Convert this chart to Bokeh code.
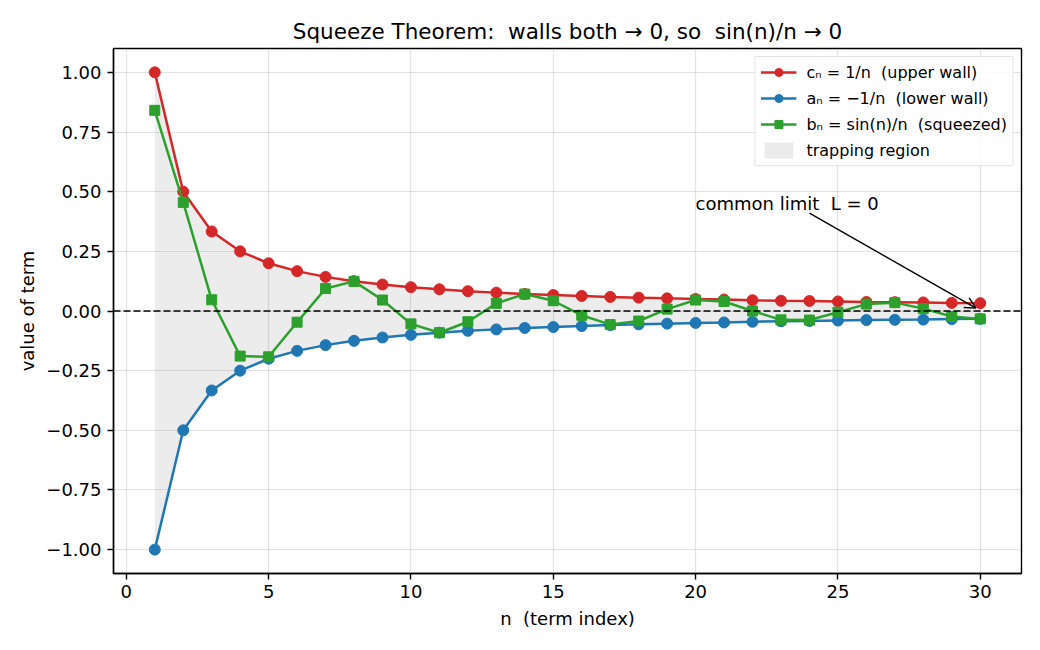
from bokeh.plotting import figure
from bokeh.models import (Range1d, FixedTicker, Span, Label, Arrow, OpenHead,
                          Legend, LegendItem)
from bokeh.embed import file_html
from bokeh.resources import INLINE

# term index and the three sequences
n = list(range(1, 31))
upper = [1.000, 0.500, 0.333, 0.250, 0.200, 0.167, 0.143, 0.125, 0.111, 0.100,
         0.091, 0.083, 0.077, 0.071, 0.067, 0.063, 0.059, 0.056, 0.053, 0.050,
         0.048, 0.045, 0.043, 0.042, 0.040, 0.038, 0.037, 0.036, 0.034, 0.033]
lower = [-1.000, -0.500, -0.333, -0.250, -0.200, -0.167, -0.143, -0.125, -0.111, -0.100,
         -0.091, -0.083, -0.077, -0.071, -0.067, -0.063, -0.059, -0.056, -0.053, -0.050,
         -0.048, -0.045, -0.043, -0.042, -0.040, -0.038, -0.037, -0.036, -0.034, -0.033]
squeezed = [0.841, 0.455, 0.047, -0.189, -0.192, -0.047, 0.094, 0.124, 0.046, -0.054,
            -0.091, -0.045, 0.032, 0.071, 0.043, -0.018, -0.057, -0.042, 0.008, 0.046,
            0.040, -0.000, -0.037, -0.038, -0.005, 0.029, 0.035, 0.010, -0.023, -0.033]

x_ticks = [0, 5, 10, 15, 20, 25, 30]
y_ticks = [-1.0, -0.75, -0.5, -0.25, 0.0, 0.25, 0.5, 0.75, 1.0]
y_tick_labels = {v: ("%.2f" % v).replace("-", "\u2212") for v in y_ticks}

# double gaps are kept with a no-break space so the SVG text doesn't collapse them
SP2 = " \u00a0"

limit_value = 0.0
limit_n = 30
note_text = "common limit" + SP2 + "L = 0"
note_pos = (20, 0.45)
arrow_tail = (24.0, 0.41)

RED, BLUE, GREEN = "#d62728", "#1f77b4", "#2ca02c"
FONT = "DejaVu Sans"

p = figure(width=1040, height=650, output_backend="svg", toolbar_location=None,
           x_range=Range1d(-0.45, 31.45), y_range=Range1d(-1.1, 1.1),
           min_border_left=113, min_border_right=19, min_border_top=48,
           min_border_bottom=77,
           title="Squeeze Theorem:" + SP2 + "walls both \u2192 0, so" + SP2
                 + "sin(n)/n \u2192 0")

p.title.align = "center"
p.title.text_font = FONT
p.title.text_font_size = "21.5px"
p.title.text_font_style = "normal"
p.title.text_color = "black"

p.background_fill_color = "white"
p.border_fill_color = "white"
p.outline_line_color = "black"
p.outline_line_width = 1.4

for ax in (p.xaxis[0], p.yaxis[0]):
    ax.axis_line_color = "black"
    ax.axis_line_width = 1.4
    ax.major_tick_line_width = 1.4
    ax.major_tick_out = 6
    ax.major_tick_in = 0
    ax.minor_tick_line_color = None
    ax.major_label_text_font = FONT
    ax.major_label_text_font_size = "18px"
    ax.major_label_text_color = "black"
    ax.axis_label_text_font = FONT
    ax.axis_label_text_font_size = "18px"
    ax.axis_label_text_font_style = "normal"
    ax.axis_label_text_color = "black"

p.xaxis.ticker = FixedTicker(ticks=x_ticks)
p.yaxis.ticker = FixedTicker(ticks=y_ticks)
p.yaxis.major_label_overrides = y_tick_labels
p.xaxis.axis_label = "n" + SP2 + "(term index)"
p.yaxis.axis_label = "value of term"
p.xaxis.major_label_standoff = 5
p.yaxis.major_label_standoff = 6
p.xaxis.axis_label_standoff = 7
p.yaxis.axis_label_standoff = 5

p.grid.grid_line_color = "#b0b0b0"
p.grid.grid_line_alpha = 0.35
p.grid.grid_line_width = 1.2

# trapping region between the walls
band = p.varea(x=n, y1=lower, y2=upper, fill_color="gray", fill_alpha=0.15)

zero_line = Span(location=limit_value, dimension="width", line_color="black",
                 line_width=1.6, line_dash="7 3")
p.add_layout(zero_line)

c_line = p.line(n, upper, line_color=RED, line_width=2.5)
c_pts = p.scatter(n, upper, marker="circle", size=11, fill_color=RED, line_color=RED)
a_line = p.line(n, lower, line_color=BLUE, line_width=2.5)
a_pts = p.scatter(n, lower, marker="circle", size=11, fill_color=BLUE, line_color=BLUE)
b_line = p.line(n, squeezed, line_color=GREEN, line_width=2.5)
b_pts = p.scatter(n, squeezed, marker="square", size=10, fill_color=GREEN, line_color=GREEN)

note = Label(x=note_pos[0], y=note_pos[1], text=note_text, text_font=FONT,
             text_font_size="18px", text_color="black", text_baseline="alphabetic",
             text_align="left")
p.add_layout(note)
p.add_layout(Arrow(end=OpenHead(size=11, line_width=1.4, line_color="black"),
                   x_start=arrow_tail[0], y_start=arrow_tail[1],
                   x_end=limit_n - 0.15, y_end=limit_value + 0.012,
                   line_color="black", line_width=1.4))

legend = Legend(items=[
    LegendItem(label="c\u2099 = 1/n" + SP2 + "(upper wall)", renderers=[c_line, c_pts]),
    LegendItem(label="a\u2099 = \u22121/n" + SP2 + "(lower wall)", renderers=[a_line, a_pts]),
    LegendItem(label="b\u2099 = sin(n)/n" + SP2 + "(squeezed)", renderers=[b_line, b_pts]),
    LegendItem(label="trapping region", renderers=[band]),
], location="top_right")
legend.label_text_font = FONT
legend.label_text_font_size = "16px"
legend.label_text_color = "black"
legend.glyph_width = 36
legend.glyph_height = 20
legend.label_height = 20
legend.spacing = 6
legend.padding = 5
legend.margin = 8
legend.label_standoff = 10
legend.border_line_color = "#cccccc"
legend.border_line_width = 1.2
legend.background_fill_alpha = 0.85
p.add_layout(legend)

open("out.html", "w").write(file_html(p, INLINE))
